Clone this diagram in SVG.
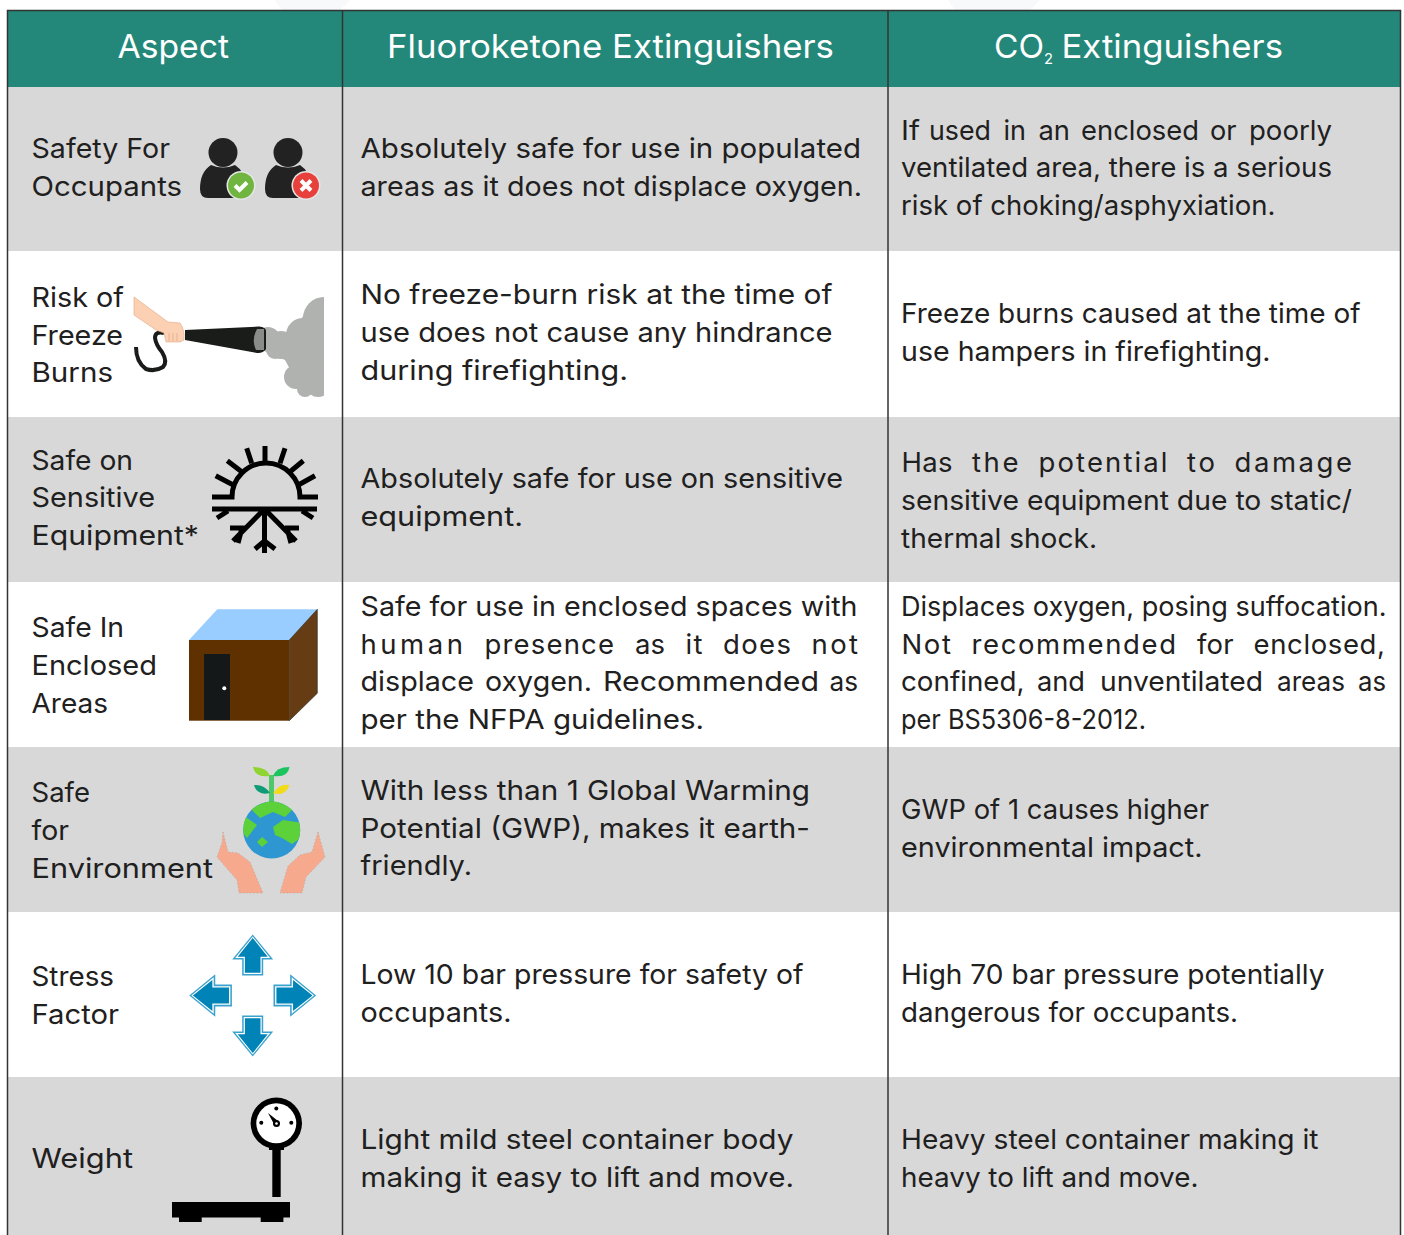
<svg xmlns="http://www.w3.org/2000/svg" width="1404" height="1235" viewBox="0 0 1404 1235">
<style>
text{font-family:Inter,"Open Sans","Liberation Sans",sans-serif;font-size:27.5px;fill:#1f2020;}
.h{font-size:33px;fill:#fff;}
.sub{font-size:15px;fill:#fff;}
.g{fill:#d8d8d8;}
.ln{stroke:#333;stroke-width:1.5;fill:none;}
.sun{stroke:#000;stroke-width:5;fill:none;}
</style>
<defs>
<g id="arrow">
<polygon points="0,-61 20.500,-36 10.500,-36 10.500,-20 -10.500,-20 -10.500,-36 -20.500,-36" fill="#3aa2ce"/>
<polygon points="0,-59 17.500,-37.500 9,-37.500 9,-21.500 -9,-21.500 -9,-37.500 -17.500,-37.500" fill="#fff"/>
<polygon points="0,-57.500 15,-38.800 7.800,-38.800 7.800,-22.800 -7.800,-22.800 -7.800,-38.800 -15,-38.800" fill="#0083b7"/>
</g>
<clipPath id="smokeClip"><rect x="250" y="290" width="74" height="115"/></clipPath>
<clipPath id="globeClip"><circle cx="271.700" cy="830" r="28.500"/></clipPath>
</defs>
<rect width="1404" height="1235" fill="#fff"/>
<polygon points="275,0 350,0 340,10 282,10" fill="#f8f9fb"/>
<polygon points="948,0 1040,0 1030,10 955,10" fill="#f8f9fb"/>
<g id="backgrounds">
<rect x="7" y="10" width="1394" height="77" fill="#23887a"/>
<rect class="g" x="7" y="87" width="1394" height="164"/>
<rect class="g" x="7" y="417" width="1394" height="165"/>
<rect class="g" x="7" y="747" width="1394" height="165"/>
<rect class="g" x="7" y="1077" width="1394" height="158"/>
</g>
<g id="grid">
<path class="ln" d="M7.500,1235V10.500H1400.500V1235M342.500,10.500V1235M888,10.500V1235"/>
</g>
<g id="header">
<text class="h" x="117.500" y="57.500" textLength="111.500" lengthAdjust="spacingAndGlyphs">Aspect</text>
<text class="h" x="387" y="57.500" textLength="447" lengthAdjust="spacingAndGlyphs">Fluoroketone Extinguishers</text>
<text class="h" x="994" y="57.500" textLength="50" lengthAdjust="spacingAndGlyphs">CO</text>
<text class="sub" x="1044" y="64" textLength="9" lengthAdjust="spacingAndGlyphs">2</text>
<text class="h" x="1061.500" y="57.500" textLength="221.500" lengthAdjust="spacingAndGlyphs">Extinguishers</text>
</g>
<g id="row-safety">
<text x="31.500" y="158" textLength="138.500" lengthAdjust="spacingAndGlyphs">Safety For</text>
<text x="31.500" y="196" textLength="150.500" lengthAdjust="spacingAndGlyphs">Occupants</text>
<text x="360.500" y="158" textLength="500.500" lengthAdjust="spacingAndGlyphs">Absolutely safe for use in populated</text>
<text x="360.500" y="196" textLength="501.500" lengthAdjust="spacingAndGlyphs">areas as it does not displace oxygen.</text>
<text y="140"><tspan x="901" textLength="19" lengthAdjust="spacingAndGlyphs">If</tspan><tspan x="929" textLength="62" lengthAdjust="spacingAndGlyphs">used</tspan><tspan x="1003.500" textLength="22.500" lengthAdjust="spacingAndGlyphs">in</tspan><tspan x="1038.500" textLength="31.500" lengthAdjust="spacingAndGlyphs">an</tspan><tspan x="1081" textLength="118" lengthAdjust="spacingAndGlyphs">enclosed</tspan><tspan x="1210" textLength="26.500" lengthAdjust="spacingAndGlyphs">or</tspan><tspan x="1249" textLength="83" lengthAdjust="spacingAndGlyphs">poorly</tspan></text>
<text x="901" y="177" textLength="431" lengthAdjust="spacingAndGlyphs">ventilated area, there is a serious</text>
<text x="901" y="215" textLength="374.500" lengthAdjust="spacingAndGlyphs">risk of choking/asphyxiation.</text>
<g id="icon-occupants">
<g id="person-ok">
<circle cx="223" cy="152.500" r="14.500" fill="#222"/>
<path d="M211,165Q223,170 235,165Q246,172 246,188Q246,198 235,198H208Q200,198 200,189Q200,172 211,165Z" fill="#222"/>
<circle cx="241" cy="185.500" r="14.500" fill="#e6e6e6"/>
<circle cx="241" cy="185.500" r="13" fill="#6fb53f"/>
<path d="M235,185.500l4.500,4.500l7.500,-7.500" stroke="#fff" stroke-width="4" fill="none"/>
</g>
<g id="person-no">
<circle cx="288" cy="152.500" r="14.500" fill="#222"/>
<path d="M276,165Q288,170 300,165Q311,172 311,188Q311,198 300,198H273Q265,198 265,189Q265,172 276,165Z" fill="#222"/>
<circle cx="306" cy="185.500" r="14.500" fill="#e6e6e6"/>
<circle cx="306" cy="185.500" r="13" fill="#e8403a"/>
<path d="M301,180.500l10,10M311,180.500l-10,10" stroke="#fff" stroke-width="4" fill="none"/>
</g>
</g>
</g>
<g id="row-freeze">
<text x="31.500" y="307" textLength="92.500" lengthAdjust="spacingAndGlyphs">Risk of</text>
<text x="31.500" y="345" textLength="91.500" lengthAdjust="spacingAndGlyphs">Freeze</text>
<text x="31.500" y="382" textLength="81.500" lengthAdjust="spacingAndGlyphs">Burns</text>
<text x="360.500" y="304" textLength="472" lengthAdjust="spacingAndGlyphs">No freeze-burn risk at the time of</text>
<text x="360.500" y="342" textLength="472" lengthAdjust="spacingAndGlyphs">use does not cause any hindrance</text>
<text x="360.500" y="380" textLength="267.500" lengthAdjust="spacingAndGlyphs">during firefighting.</text>
<text x="901" y="323" textLength="459.500" lengthAdjust="spacingAndGlyphs">Freeze burns caused at the time of</text>
<text x="901" y="361" textLength="369.500" lengthAdjust="spacingAndGlyphs">use hampers in firefighting.</text>
<g id="icon-extinguisher">
<g clip-path="url(#smokeClip)" fill="#b0b2b0">
<polygon points="262,333 290,342 305,312 330,298 330,397 300,388 285,360 262,350"/>
<circle cx="324" cy="318" r="21"/><circle cx="303" cy="335" r="17"/><circle cx="281" cy="345" r="14"/><circle cx="268" cy="339" r="12"/><circle cx="296" cy="377" r="12"/><circle cx="305" cy="389" r="8"/><circle cx="318" cy="385" r="12"/><circle cx="275" cy="350" r="9"/>
</g>
<path d="M185,330L259,326.500Q266,327 266,331V349Q263,353.500 257,353L185,340Z" fill="#1a1c1a"/>
<path d="M257,329H264V350H256Q251,340 257,329Z" fill="#8a8c8a"/>
<path d="M164,333Q155,331 155,338Q156,345 162,352Q168,362 163,367Q155,372 146,369Q136,362 136,347" stroke="#1a1c1a" stroke-width="4" fill="none"/>
<path d="M134,297L168,322L180,323Q185,330 184,340L180,342H166L164,333L156,330L134,315Z" fill="#fbd0b3" stroke="#e2a782" stroke-width=".6"/>
<path d="M169,333V341M173,333V341M177,333V341" stroke="#e2a782" stroke-width=".7"/>
</g>
</g>
<g id="row-sensitive">
<text x="31.500" y="470" textLength="101.500" lengthAdjust="spacingAndGlyphs">Safe on</text>
<text x="31.500" y="507" textLength="123.500" lengthAdjust="spacingAndGlyphs">Sensitive</text>
<text x="31.500" y="545" textLength="167.500" lengthAdjust="spacingAndGlyphs">Equipment*</text>
<text x="360.500" y="488" textLength="482.500" lengthAdjust="spacingAndGlyphs">Absolutely safe for use on sensitive</text>
<text x="360.500" y="526" textLength="162.500" lengthAdjust="spacingAndGlyphs">equipment.</text>
<text y="472"><tspan x="901.500" textLength="51" lengthAdjust="spacing">Has</tspan><tspan x="972" textLength="46.500" lengthAdjust="spacing">the</tspan><tspan x="1038.500" textLength="129" lengthAdjust="spacing">potential</tspan><tspan x="1187" textLength="28" lengthAdjust="spacing">to</tspan><tspan x="1234.500" textLength="117.500" lengthAdjust="spacing">damage</tspan></text>
<text x="901" y="510" textLength="451" lengthAdjust="spacingAndGlyphs">sensitive equipment due to static/</text>
<text x="901" y="548" textLength="196" lengthAdjust="spacingAndGlyphs">thermal shock.</text>
<g id="icon-sun-snow" class="sun">
<path d="M212,497H232A34,34 0 0 1 300,497H318"/>
<path d="M265,446V463M246.700,448.300L251.700,463.300M285,448.300L280,463.300M227.300,460.700L241.700,471.700M303.300,460.700L290,471.700M215.700,475.700L233.300,485M315,475.700L298.300,485"/>
<path d="M212,509H317M264.500,509V553M264.500,509L233,541M264.500,509L296,541M255,549L264.500,541L275,549M217,518L228,511M313,518L302,511M230,528H245M238,543L242,528M299,528H285M291,543L287,528"/>
</g>
</g>
<g id="row-enclosed">
<text x="31.500" y="637" textLength="92.500" lengthAdjust="spacingAndGlyphs">Safe In</text>
<text x="31.500" y="675" textLength="125.500" lengthAdjust="spacingAndGlyphs">Enclosed</text>
<text x="31.500" y="713" textLength="76.500" lengthAdjust="spacingAndGlyphs">Areas</text>
<text x="360.500" y="616" textLength="497" lengthAdjust="spacingAndGlyphs">Safe for use in enclosed spaces with</text>
<text y="654"><tspan x="360.500" textLength="102.500" lengthAdjust="spacing">human</tspan><tspan x="484.500" textLength="129.500" lengthAdjust="spacing">presence</tspan><tspan x="635" textLength="30" lengthAdjust="spacing">as</tspan><tspan x="685.500" textLength="17" lengthAdjust="spacing">it</tspan><tspan x="723" textLength="68" lengthAdjust="spacing">does</tspan><tspan x="811.500" textLength="46.500" lengthAdjust="spacing">not</tspan></text>
<text y="691"><tspan x="360.500" textLength="113.500" lengthAdjust="spacingAndGlyphs">displace</tspan><tspan x="485" textLength="107" lengthAdjust="spacingAndGlyphs">oxygen.</tspan><tspan x="603" textLength="216" lengthAdjust="spacingAndGlyphs">Recommended</tspan><tspan x="829.500" textLength="28.500" lengthAdjust="spacingAndGlyphs">as</tspan></text>
<text x="360.500" y="729" textLength="343.500" lengthAdjust="spacingAndGlyphs">per the NFPA guidelines.</text>
<text x="901" y="616" textLength="485.500" lengthAdjust="spacingAndGlyphs">Displaces oxygen, posing suffocation.</text>
<text y="654"><tspan x="901.500" textLength="49.500" lengthAdjust="spacing">Not</tspan><tspan x="971.500" textLength="204.500" lengthAdjust="spacing">recommended</tspan><tspan x="1197" textLength="36.500" lengthAdjust="spacing">for</tspan><tspan x="1253.500" textLength="131.500" lengthAdjust="spacing">enclosed,</tspan></text>
<text y="691"><tspan x="901" textLength="123.500" lengthAdjust="spacingAndGlyphs">confined,</tspan><tspan x="1037" textLength="48" lengthAdjust="spacingAndGlyphs">and</tspan><tspan x="1100" textLength="163" lengthAdjust="spacingAndGlyphs">unventilated</tspan><tspan x="1277" textLength="68" lengthAdjust="spacingAndGlyphs">areas</tspan><tspan x="1358" textLength="28" lengthAdjust="spacingAndGlyphs">as</tspan></text>
<text x="901" y="729" textLength="245" lengthAdjust="spacingAndGlyphs">per BS5306-8-2012.</text>
<g id="icon-house">
<polygon points="189,640 217.300,609.300 317.300,609.300 289.300,640" fill="#99ccff"/>
<polygon points="289.300,640 317.300,609.300 317.300,693.300 289.300,720.700" fill="#653c13" stroke="#222" stroke-width=".6"/>
<rect x="189" y="640" width="100.300" height="80.700" fill="#5f3100"/>
<rect x="204" y="654" width="26" height="66" fill="#141818"/>
<circle cx="224.300" cy="688.300" r="2" fill="#fff"/>
</g>
</g>
<g id="row-environment">
<text x="31.500" y="802" textLength="58.500" lengthAdjust="spacingAndGlyphs">Safe</text>
<text x="31.500" y="840" textLength="37.500" lengthAdjust="spacingAndGlyphs">for</text>
<text x="31.500" y="878" textLength="181.500" lengthAdjust="spacingAndGlyphs">Environment</text>
<text x="360.500" y="800" textLength="449.500" lengthAdjust="spacingAndGlyphs">With less than 1 Global Warming</text>
<text x="360.500" y="838" textLength="449.500" lengthAdjust="spacingAndGlyphs">Potential (GWP), makes it earth-</text>
<text x="360.500" y="875" textLength="111.500" lengthAdjust="spacingAndGlyphs">friendly.</text>
<text x="901" y="819" textLength="308" lengthAdjust="spacingAndGlyphs">GWP of 1 causes higher</text>
<text x="901" y="857" textLength="301.500" lengthAdjust="spacingAndGlyphs">environmental impact.</text>
<g id="icon-earth">
<path d="M271.500,775V804" stroke="#4fc86a" stroke-width="5"/>
<path d="M270,776Q267,767 253,767Q255,778 270,776Z" fill="#8fd431"/>
<path d="M273,776Q276,767 289.500,767Q288,778 273,776Z" fill="#1cc45f"/>
<path d="M270,793Q264,784 254,785Q257,796 270,793Z" fill="#0f9b76"/>
<path d="M273,793Q280,783 289.500,785Q285,797 273,793Z" fill="#f2dc1a"/>
<circle cx="271.700" cy="830" r="28.500" fill="#2e96d0"/>
<g clip-path="url(#globeClip)" fill="#5cd13a">
<polygon points="250,808 272,800 294,808 285,817 273,812 260,818"/>
<polygon points="243,815 257,825 247,838 242,832"/>
<polygon points="273,827 283,820 302,823 302,837 292,844 282,838 275,835"/>
<polygon points="257,842 262,837 268,842 262,847"/>
</g>
<g fill="#f7a98d" stroke="#b9a79e" stroke-width=".7" stroke-dasharray="1.500 2">
<polygon points="223,832 228,852 238,853 250,862 263,893 239,893 237,880 217,857 222,843"/>
<polygon points="318,832 325,857 306,877 302,893 280,893 288,866 300,855 312,852 315,842"/>
</g>
</g>
</g>
<g id="row-stress">
<text x="31.500" y="986" textLength="82.500" lengthAdjust="spacingAndGlyphs">Stress</text>
<text x="31.500" y="1024" textLength="87.500" lengthAdjust="spacingAndGlyphs">Factor</text>
<text x="360.500" y="984" textLength="443" lengthAdjust="spacingAndGlyphs">Low 10 bar pressure for safety of</text>
<text x="360.500" y="1022" textLength="151" lengthAdjust="spacingAndGlyphs">occupants.</text>
<text x="901" y="984" textLength="423.500" lengthAdjust="spacingAndGlyphs">High 70 bar pressure potentially</text>
<text x="901" y="1022" textLength="337" lengthAdjust="spacingAndGlyphs">dangerous for occupants.</text>
<g id="icon-arrows">
<use href="#arrow" transform="translate(252.700,995.500)"/>
<use href="#arrow" transform="translate(252.700,995.500) rotate(180)"/>
<use href="#arrow" transform="translate(252.700,995.500) rotate(90) scale(1.04)"/>
<use href="#arrow" transform="translate(252.700,995.500) rotate(-90) scale(1.04)"/>
</g>
</g>
<g id="row-weight">
<text x="31.500" y="1168" textLength="101.500" lengthAdjust="spacingAndGlyphs">Weight</text>
<text x="360.500" y="1149" textLength="433" lengthAdjust="spacingAndGlyphs">Light mild steel container body</text>
<text x="360.500" y="1187" textLength="433.500" lengthAdjust="spacingAndGlyphs">making it easy to lift and move.</text>
<text x="901" y="1149" textLength="417.500" lengthAdjust="spacingAndGlyphs">Heavy steel container making it</text>
<text x="901" y="1187" textLength="297.500" lengthAdjust="spacingAndGlyphs">heavy to lift and move.</text>
<g id="icon-scale">
<rect x="172" y="1202" width="118" height="15.500"/>
<rect x="179" y="1217" width="22.700" height="5"/>
<rect x="260.700" y="1217" width="22.700" height="5"/>
<rect x="272.300" y="1147" width="8.400" height="50"/>
<rect x="269" y="1144" width="15" height="6"/>
<circle cx="276.300" cy="1123.300" r="25.700"/>
<circle cx="276.300" cy="1123.300" r="20" fill="#fff"/>
<circle cx="276.300" cy="1108.500" r="2"/><circle cx="261.300" cy="1122.700" r="2"/><circle cx="291.300" cy="1122.700" r="2"/>
<polygon points="268,1113 278,1121 274.500,1125"/>
<circle cx="276.500" cy="1123.500" r="3.500"/><circle cx="276.500" cy="1123.500" r="1.300" fill="#fff"/>
</g>
</g>
</svg>
